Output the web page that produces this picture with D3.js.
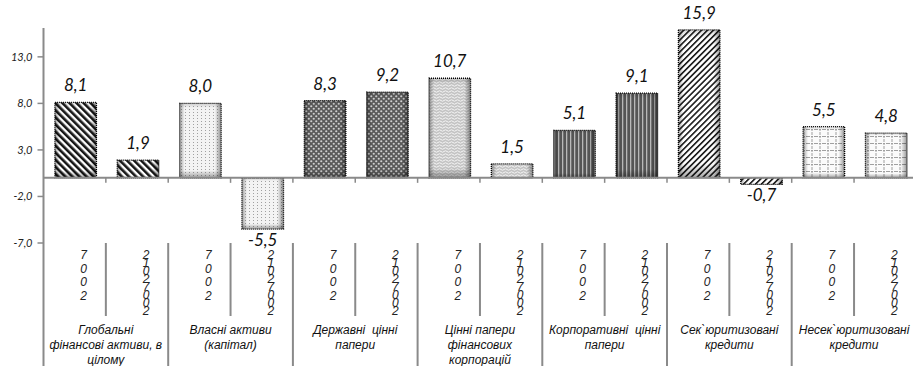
<!DOCTYPE html>
<html><head><meta charset="utf-8">
<script src="https://cdn.jsdelivr.net/npm/d3@7"></script>
<style>html,body{margin:0;padding:0;background:#fff;} svg{display:block;}</style>
</head><body>
<svg id="chart" width="913" height="366"></svg>
<script>
// Asset groups (category labels, one array of lines per group)
const groupLabels = [
  ["Глобальні", "фінансові активи, в", "цілому"],
  ["Власні активи", "(капітал)"],
  ["Державні  цінні", "папери"],
  ["Цінні папери", "фінансових", "корпорацій"],
  ["Корпоративні  цінні", "папери"],
  ["Сек`юритизовані", "кредити"],
  ["Несек`юритизовані", "кредити"]
];
// Period labels (drawn as stacked glyphs, read bottom-to-top)
const periodLabels = ["2007", "20072012"];
// Series values, %
const values2007 = [8.1, 8.0, 8.3, 10.7, 5.1, 15.9, 5.5];
const values0712 = [1.9, -5.5, 9.2, 1.5, 9.1, -0.7, 4.8];
// Value axis ticks
const yTicks = [-7, -2, 3, 8, 13];

const W = 913, H = 366;
const svg = d3.select("#chart");
const locale = d3.formatLocale({decimal: ",", thousands: " ", grouping: [3], currency: ["", ""], minus: "-"});
const fmt = locale.format(".1f");

const bars = [];
groupLabels.forEach((g, i) => {
  bars.push({group: i, period: 0, value: values2007[i]});
  bars.push({group: i, period: 1, value: values0712[i]});
});

const plotLeft = 43.5, step = 62.35;
const x = d3.scaleBand().domain(d3.range(bars.length))
  .range([plotLeft, plotLeft + step * bars.length]).padding(0);
const y = d3.scaleLinear().domain([-7, 16.1]).range([243, 28]);
const barW = x.bandwidth() / 1.5;
const axisColor = "#8a8a8a";

// ---- fill patterns, one per asset group ----
const defs = svg.append("defs");
function pat(id, w, h, rot) {
  const p = defs.append("pattern").attr("id", id).attr("patternUnits", "userSpaceOnUse")
    .attr("width", w).attr("height", h);
  if (rot) p.attr("patternTransform", `rotate(${rot})`);
  return p;
}
// 0: thick back-diagonal stripes
let p = pat("p0", 5, 5, -45);
p.append("rect").attr("width", 5).attr("height", 5).attr("fill", "#fff");
p.append("rect").attr("width", 2.6).attr("height", 5).attr("fill", "#151515");
// 1: fine light dots
p = pat("p1", 4, 3);
p.append("rect").attr("width", 4).attr("height", 3).attr("fill", "#f3f3f3");
p.append("rect").attr("x", 1).attr("y", 1).attr("width", 1).attr("height", 1).attr("fill", "#a0a0a0");
// 2: dark ground with light spheres
p = pat("p2", 5, 5);
p.append("rect").attr("width", 5).attr("height", 5).attr("fill", "#5a5a5a");
p.append("circle").attr("cx", 1.25).attr("cy", 1.25).attr("r", 1.1).attr("fill", "#cfcfcf");
p.append("circle").attr("cx", 3.75).attr("cy", 3.75).attr("r", 1.1).attr("fill", "#cfcfcf");
// 3: light waves
p = pat("p3", 6, 3);
p.append("rect").attr("width", 6).attr("height", 3).attr("fill", "#c4c4c4");
p.append("path").attr("d", "M0 1.5 Q1.5 0 3 1.5 T6 1.5").attr("fill", "none").attr("stroke", "#f4f4f4").attr("stroke-width", 1);
// 4: vertical stripes
p = pat("p4", 4, 4);
p.append("rect").attr("width", 4).attr("height", 4).attr("fill", "#555");
p.append("rect").attr("x", 2).attr("width", 1.3).attr("height", 4).attr("fill", "#b8b8b8");
// 5: forward-diagonal stripes
p = pat("p5", 4.2, 4.2, 45);
p.append("rect").attr("width", 4.2).attr("height", 4.2).attr("fill", "#fff");
p.append("rect").attr("width", 1.6).attr("height", 4.2).attr("fill", "#1a1a1a");
// 6: light grid
p = pat("p6", 8, 7);
p.append("rect").attr("width", 8).attr("height", 7).attr("fill", "#fbfbfb");
p.append("path").attr("d", "M0 3.5 H8 M4 0 V7").attr("stroke", "#a0a0a0").attr("stroke-width", 1).attr("stroke-dasharray", "2 1");

// bevel shading overlays
const gH = defs.append("linearGradient").attr("id", "shadeH").attr("x1", 0).attr("x2", 1).attr("y1", 0).attr("y2", 0);
[[0, 0.35], [0.12, 0], [0.85, 0], [1, 0.4]].forEach(([o, a]) =>
  gH.append("stop").attr("offset", o).attr("stop-color", "#000").attr("stop-opacity", a));
const gV = defs.append("linearGradient").attr("id", "shadeV").attr("x1", 0).attr("x2", 0).attr("y1", 0).attr("y2", 1);
[[0, 0.15], [0.06, 0], [0.9, 0], [1, 0.35]].forEach(([o, a]) =>
  gV.append("stop").attr("offset", o).attr("stop-color", "#000").attr("stop-opacity", a));

// ---- axes ----
const y0 = y(0);
// value axis line running down through the category area
svg.append("line").attr("x1", plotLeft).attr("x2", plotLeft).attr("y1", y.range()[1]).attr("y2", H)
  .attr("stroke", axisColor).attr("stroke-width", 2);
const yAxis = svg.append("g");
yTicks.forEach(t => {
  yAxis.append("line").attr("x1", plotLeft - 6).attr("x2", plotLeft).attr("y1", y(t)).attr("y2", y(t))
    .attr("stroke", axisColor).attr("stroke-width", 1.5);
  yAxis.append("text").attr("x", plotLeft - 11).attr("y", y(t)).attr("dy", "0.35em")
    .attr("text-anchor", "end").attr("font-family", "Lato, 'Open Sans', sans-serif")
    .attr("font-style", "italic").attr("font-size", 11).attr("fill", "#222").text(fmt(t));
});

// category separators below the plot
d3.range(1, bars.length).forEach(i => {
  const xx = x(i);
  const major = i % 2 === 0;
  svg.append("line").attr("x1", xx).attr("x2", xx).attr("y1", y(-7)).attr("y2", major ? H : 316)
    .attr("stroke", axisColor).attr("stroke-width", 2);
});

// ---- bars ----
const bg = svg.append("g");
bars.forEach((d, i) => {
  const bx = x(i) + (x.bandwidth() - barW) / 2 + 1;
  const top = y(Math.max(0, d.value)), bot = y(Math.min(0, d.value));
  const h = bot - top;
  bg.append("rect").attr("x", bx).attr("y", top).attr("width", barW).attr("height", h).attr("fill", `url(#p${d.group})`);
  bg.append("rect").attr("x", bx).attr("y", top).attr("width", barW).attr("height", h).attr("fill", "url(#shadeH)");
  bg.append("rect").attr("x", bx).attr("y", top).attr("width", barW).attr("height", h).attr("fill", "url(#shadeV)");
  bg.append("rect").attr("x", bx).attr("y", top).attr("width", barW).attr("height", h)
    .attr("fill", "none").attr("stroke", "#000").attr("stroke-width", 1.3).attr("stroke-dasharray", "1 1");
});

// zero line with tick marks at every bar boundary
svg.append("line").attr("x1", plotLeft).attr("x2", W).attr("y1", y0).attr("y2", y0)
  .attr("stroke", axisColor).attr("stroke-width", 2);
d3.range(1, bars.length).forEach(i => {
  svg.append("line").attr("x1", x(i)).attr("x2", x(i)).attr("y1", y0).attr("y2", y0 + 5)
    .attr("stroke", axisColor).attr("stroke-width", 1.5);
});

// ---- data labels ----
bars.forEach((d, i) => {
  const cx = x(i) + x.bandwidth() / 2 + 1;
  svg.append("text").attr("x", cx)
    .attr("y", d.value >= 0 ? y(d.value) - 11 : y(d.value) + 17)
    .attr("text-anchor", "middle").attr("font-family", "Lato, 'Open Sans', sans-serif")
    .attr("font-style", "italic").attr("font-size", 17).attr("fill", "#111").text(fmt(d.value));
});

// ---- period labels: glyphs stacked bottom-to-top ----
bars.forEach((d, i) => {
  const cx = x(i) + x.bandwidth() / 2 + 9;
  const chars = periodLabels[d.period].split("").reverse();
  const stepY = d.period === 0 ? 13.5 : 8;
  const t = svg.append("text").attr("text-anchor", "middle")
    .attr("font-family", "'Liberation Sans', Arial, sans-serif").attr("font-style", "italic")
    .attr("font-size", 12).attr("fill", "#222");
  chars.forEach((c, k) => {
    t.append("tspan").attr("x", cx).attr("y", 259 + k * stepY).text(c);
  });
});

// ---- group labels ----
groupLabels.forEach((lines, g) => {
  const cx = x(2 * g) + x.bandwidth();
  const t = svg.append("text").attr("text-anchor", "middle")
    .attr("font-family", "'Liberation Sans', Arial, sans-serif").attr("font-style", "italic")
    .attr("font-size", 12).attr("fill", "#111");
  lines.forEach((ln, k) => {
    t.append("tspan").attr("x", cx).attr("y", 334 + k * 15).attr("xml:space", "preserve").text(ln);
  });
});
</script>
</body></html>
